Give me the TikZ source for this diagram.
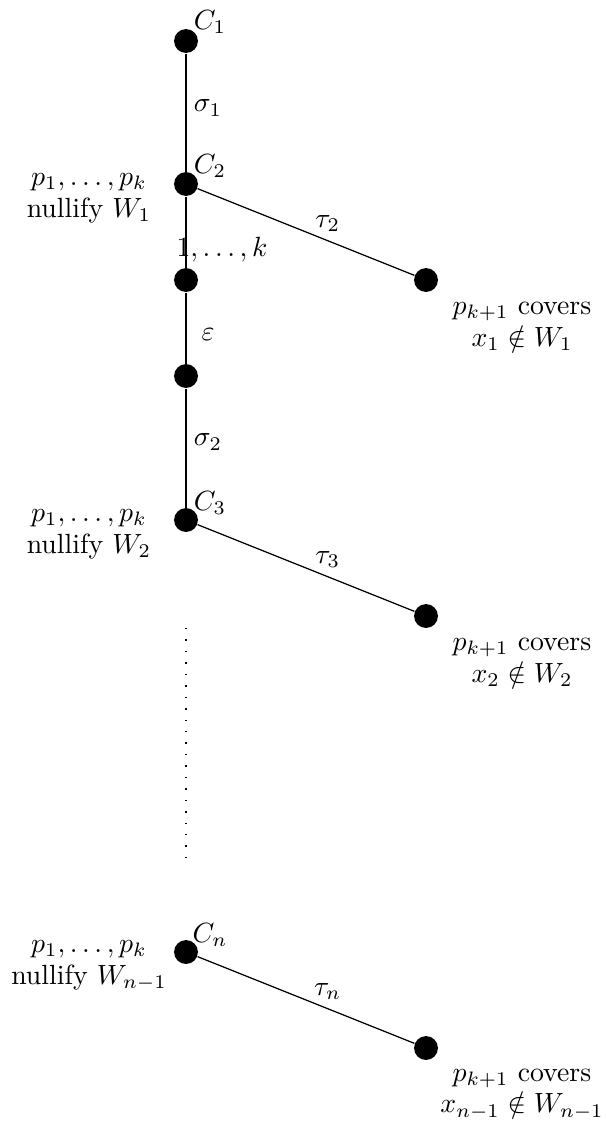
\documentclass[tikz,border=0pt]{standalone}
\begin{document}
\begin{tikzpicture}[x=0.36pt,y=-0.36pt,
  dot/.style={circle,fill=black,inner sep=0pt,minimum size=8.6pt},
  edge/.style={line width=0.45pt},
  lab/.style={inner sep=0pt},
  twoline/.style={inner sep=0pt,align=center,font=\fontsize{10}{11.5}\selectfont}]
\useasboundingbox (0,0) rectangle (605,1133);
% main vertical chain
\node[dot] (c1) at (186,41) {};
\node[dot] (c2) at (186,184) {};
\node[dot] (n3) at (186,280) {};
\node[dot] (n4) at (186,376) {};
\node[dot] (c3) at (186,520) {};
\node[dot] (cn) at (186,952) {};
% right nodes
\node[dot] (r2) at (426,280) {};
\node[dot] (r3) at (426,616) {};
\node[dot] (rn) at (426,1048) {};
% edges
\draw[edge] (c1) -- (c2) -- (n3) -- (n4) -- (c3);
\draw[edge] (c2) -- (r2) node[lab,pos=0.6,above=3pt] (t2) {$\tau_2$};
\draw[edge] (c3) -- (r3) node[lab,pos=0.6,above=3pt] (t3) {$\tau_3$};
\draw[edge] (cn) -- (rn) node[lab,pos=0.6,above=3pt] (tn) {$\tau_n$};
% dotted continuation
\coordinate (d1) at (186,628);
\coordinate (d2) at (186,857);
\draw[line width=0.5pt,dash pattern=on 0.5pt off 3.62pt] (d1) -- (d2);
% vertex labels
\node[lab] (lc1) at (210,22) {$C_1$};
\node[lab] (lc2) at (210,166) {$C_2$};
\node[lab] (lc3) at (210,503) {$C_3$};
\node[lab] (lcn) at (210,935) {$C_n$};
% edge labels on the chain
\node[lab] (s1) at (208,108) {$\sigma_1$};
\node[lab] (ep) at (208,335) {$\varepsilon$};
\node[lab] (s2) at (208,442) {$\sigma_2$};
\node[lab] (ks) at (222,250) {$1,\ldots,k$};
% left labels
\node[twoline] (l2) at (89,198) {$p_1,\ldots,p_k$\\nullify $W_1$};
\node[twoline] (l3) at (89,534) {$p_1,\ldots,p_k$\\nullify $W_2$};
\node[twoline] (ln) at (89,966) {$p_1,\ldots,p_k$\\nullify $W_{n-1}$};
% right labels
\node[twoline] (q2) at (522,326) {$p_{k+1}$ covers\\$x_1\notin W_1$};
\node[twoline] (q3) at (522,662) {$p_{k+1}$ covers\\$x_2\notin W_2$};
\node[twoline] (qn) at (522,1094) {$p_{k+1}$ covers\\$x_{n-1}\notin W_{n-1}$};
\end{tikzpicture}
\end{document}
